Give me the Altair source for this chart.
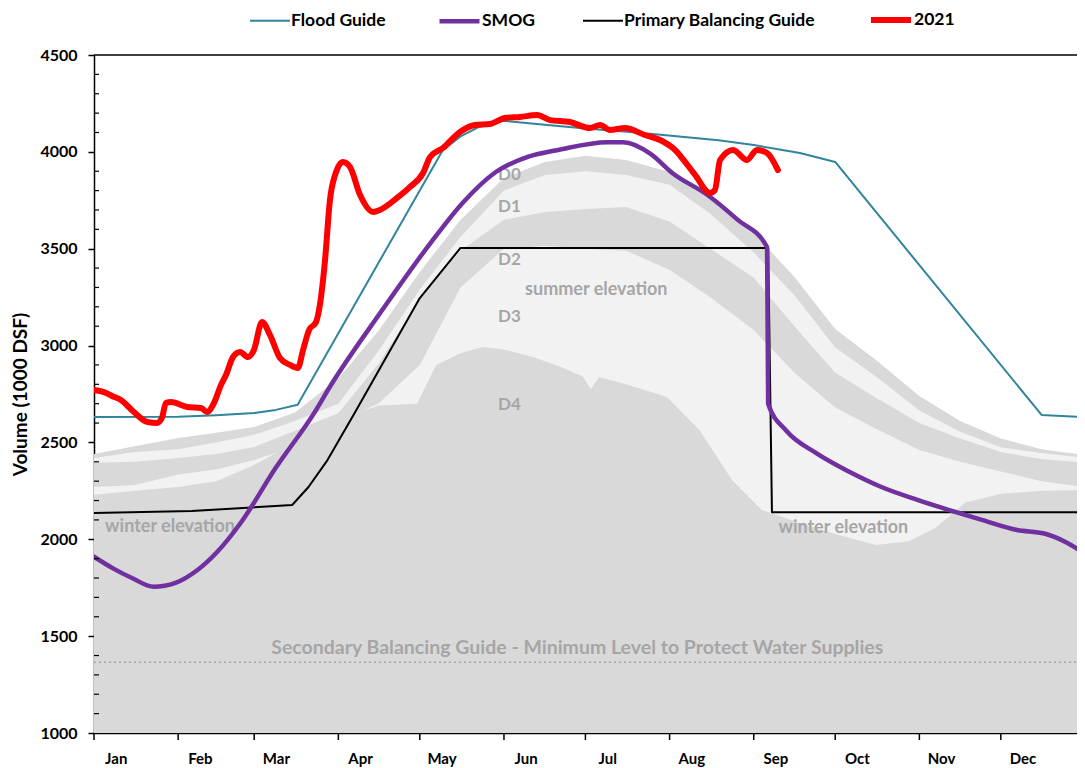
import altair as alt
import pandas as pd

# ---------------- data ----------------
months = ["Jan", "Feb", "Mar", "Apr", "May", "Jun", "Jul", "Aug", "Sep", "Oct", "Nov", "Dec"]
month_start = [0, 31, 59, 90, 120, 151, 181, 212, 243, 273, 304, 334]
month_label_day = [8, 39, 67, 98, 128, 159, 189, 220, 251, 281, 312, 342]

# drought band boundaries (day of year, volume)
band_days = [0, 15, 31, 45, 59, 74, 90, 105, 120, 135, 151, 166, 181, 196, 212, 227, 243, 258, 273, 288, 304, 319, 334, 349, 365]
d0_top = [2440, 2480, 2523, 2550, 2580, 2655, 2830, 3080, 3380, 3650, 3865, 3948, 3980, 3958, 3896, 3767, 3581, 3354, 3085, 2926, 2740, 2610, 2520, 2465, 2435]
d1_top = [2420, 2450, 2465, 2500, 2540, 2610, 2700, 2977, 3290, 3560, 3800, 3880, 3900, 3880, 3830, 3680, 3480, 3260, 2990, 2840, 2665, 2555, 2475, 2445, 2420]
d2_top = [2395, 2400, 2420, 2440, 2476, 2560, 2650, 2910, 3240, 3490, 3650, 3690, 3705, 3715, 3640, 3500, 3350, 3100, 2860, 2730, 2600, 2520, 2450, 2415, 2395]
d3_top = [2270, 2280, 2335, 2360, 2409, 2480, 2600, 2704, 2900, 3300, 3500, 3515, 3500, 3490, 3390, 3250, 3080, 2860, 2680, 2570, 2461, 2400, 2350, 2300, 2270]

d4_days = [0, 15, 31, 45, 59, 74, 90, 105, 119, 126, 135, 143, 151, 162, 172, 180, 183, 186, 196, 211, 223, 235, 246, 260, 275, 288, 300, 310, 321, 334, 349, 365]
d4_top = [2230, 2250, 2270, 2300, 2383, 2500, 2620, 2690, 2700, 2900, 2960, 2993, 2980, 2940, 2890, 2840, 2775, 2838, 2800, 2735, 2564, 2306, 2151, 2084, 2020, 1971, 1990, 2060, 2190, 2235, 2250, 2254]

flood_days = [0, 31, 45, 59, 67, 75, 128.5, 135, 142, 151, 166, 181, 200, 230, 243, 260, 273, 349, 365]
flood_vals = [2631, 2632, 2640, 2652, 2668, 2695, 4010, 4080, 4130, 4160, 4140, 4120, 4100, 4060, 4035, 3994, 3948, 2642, 2631]

smog_days = [0, 7, 14, 22, 30, 38, 45, 54, 67, 81, 87, 105, 124, 136, 148, 160, 171, 189, 195, 205, 213, 226, 237, 247.9, 248.3, 255, 266, 278, 290, 303, 315, 327, 340, 350, 358, 365]
smog_vals = [1910, 1850, 1800, 1755, 1775, 1840, 1929, 2084, 2370, 2650, 2790, 3160, 3530, 3740, 3896, 3975, 4010, 4050, 4050, 3990, 3891, 3777, 3650, 3509, 2700, 2560, 2445, 2350, 2270, 2205, 2151, 2100, 2048, 2030, 1985, 1925]

pbg_days = [0, 36, 73, 79, 86, 96, 120, 135, 248.3, 249.7, 365]
pbg_vals = [2136, 2146, 2177, 2270, 2409, 2652, 3245, 3504, 3504, 2140, 2140]

obs_days = [0, 3.7, 6.6, 9.9, 14.7, 19.5, 23.2, 25, 26.5, 28.4, 34.3, 39.4, 41.6, 44.2, 46.8, 48.6, 51.2, 53.8, 56.7, 58.9,
            61.9, 64.8, 68.5, 72.2, 75.1, 77, 79.2, 81.8, 83.2, 85.1, 86.9, 88.8, 91.7, 94.3, 98, 102.8, 105.3, 111.6, 116.4,
            121.2, 123.8, 128.5, 134.8, 140.3, 145.9, 151.4, 156.9, 163.2, 168, 175.3, 182.7, 186.4, 190, 195.6, 202.9, 208.5,
            214, 217.7, 221.4, 226.9, 228.7, 230.6, 235.4, 240.5, 244.2, 247.9, 251.9]
obs_vals = [2771, 2760, 2740, 2719, 2657, 2606, 2600, 2626, 2704, 2709, 2683, 2678, 2657, 2704, 2797, 2848, 2941, 2967, 2941, 2977,
            3122, 3055, 2936, 2900, 2884, 2977, 3080, 3122, 3210, 3442, 3751, 3881, 3948, 3922, 3777, 3690, 3700, 3762, 3819,
            3891, 3974, 4020, 4103, 4139, 4144, 4175, 4180, 4190, 4164, 4154, 4123, 4139, 4113, 4123, 4087, 4061,
            4010, 3948, 3881, 3788, 3803, 3958, 4010, 3958, 4010, 3994, 3906]

secondary_level = 1365

label_text = ["D0", "D1", "D2", "summer elevation", "D3", "D4", "winter elevation", "winter elevation",
              "Secondary Balancing Guide - Minimum Level to Protect Water Supplies"]
label_day = [153, 153, 153, 185, 153, 153, 28, 276, 178]
label_val = [3881, 3715, 3442, 3287, 3148, 2693, 2064, 2058, 1439]
label_size = [17, 17, 17, 18, 17, 17, 18, 18, 19.5]

series_names = ["Flood Guide", "SMOG", "Primary Balancing Guide", "2021"]
series_colors = ["#31849B", "#7030A0", "#000000", "#FF0000"]
series_widths = [2, 4.5, 2, 6]

# ---------------- frames ----------------
bands = pd.DataFrame({"day": band_days, "l0": d0_top, "l1": d1_top, "l2": d2_top, "l3": d3_top})
bands["base"] = 1000
d4 = pd.DataFrame({"day": d4_days, "l4": d4_top})
d4["base"] = 1000

def series_df(days, vals, name):
    return pd.DataFrame({"day": days, "val": vals, "series": name})

flood = series_df(flood_days, flood_vals, series_names[0])
smog = series_df(smog_days, smog_vals, series_names[1])
pbg = series_df(pbg_days, pbg_vals, series_names[2])
obs = series_df(obs_days, obs_vals, series_names[3])

labels = pd.DataFrame({"day": label_day, "val": label_val, "text": label_text, "fs": label_size})
sec = pd.DataFrame({"day": [0, 365], "val": [secondary_level, secondary_level]})
minor = pd.DataFrame({"val": [v for v in range(1100, 4500, 100) if v % 500 != 0]})
mticks = pd.DataFrame({"day": month_start})
top_line = pd.DataFrame({"val": [4500]})

FONT = "Lato"
DARK = "#D9D9D9"
LIGHT = "#F2F2F2"
GREYTXT = "#A6A6A6"

month_arr = "[" + ",".join("'%s'" % m for m in months) + "]"
label_arr = "[" + ",".join(str(d) for d in month_label_day) + "]"

PLOT_W = 991
PLOT_H = 678
xs = alt.Scale(domain=[0, 365], nice=False, zero=False)
ys = alt.Scale(domain=[1000, 4500], nice=False, zero=False)

X = alt.X("day:Q", scale=xs, axis=alt.Axis(values=month_label_day,
                                          labelExpr=month_arr + "[indexof(" + label_arr + ", datum.value)]",
                                          ticks=False, title=None, grid=False, domainColor="#000", domainWidth=1.5,
                                          labelFont=FONT, labelFontSize=15, labelFontWeight="bold", labelColor="#000",
                                          labelPadding=18))
Y_axis = alt.Axis(values=[1000, 1500, 2000, 2500, 3000, 3500, 4000, 4500], format="d", title="Volume (1000 DSF)",
                  grid=False, domainColor="#000", domainWidth=1.5, tickColor="#000", tickWidth=1.5, tickSize=6,
                  labelFont=FONT, labelFontSize=16, labelFontWeight="bold", labelColor="#000", labelPadding=11,
                  titleFont=FONT, titleFontSize=19, titleFontWeight="bold", titleColor="#000", titlePadding=9)

def area(df, top, color):
    return alt.Chart(df).mark_area(color=color, opacity=1, clip=True).encode(
        x=X, y=alt.Y(top + ":Q", scale=ys, axis=Y_axis), y2="base:Q")

a0 = area(bands, "l0", DARK)
a1 = area(bands, "l1", LIGHT)
a2 = area(bands, "l2", DARK)
a3 = area(bands, "l3", LIGHT)
a4 = area(d4, "l4", DARK)

secline = alt.Chart(sec).mark_line(color="#A6A6A6", strokeDash=[2, 3], strokeWidth=1.5, clip=True).encode(
    x=X, y=alt.Y("val:Q", scale=ys))

texts = alt.Chart(labels).mark_text(font=FONT, fontWeight="bold", color=GREYTXT, align="center", baseline="middle").encode(
    x=X, y=alt.Y("val:Q", scale=ys), text="text:N", size=alt.Size("fs:Q", scale=None, legend=None))

color_scale = alt.Scale(domain=series_names, range=series_colors)
width_scale = alt.Scale(type="ordinal", domain=series_names, range=series_widths)

def line(df, interp):
    return alt.Chart(df).mark_line(interpolate=interp, strokeCap="round", strokeJoin="round", clip=True).encode(
        x=X, y=alt.Y("val:Q", scale=ys),
        color=alt.Color("series:N", scale=color_scale, title=None),
        strokeWidth=alt.StrokeWidth("series:N", scale=width_scale, title=None))

l_flood = line(flood, "linear")
l_pbg = line(pbg, "linear")
l_smog = line(smog, "monotone")
l_obs = line(obs, "monotone")

minor_rules = alt.Chart(minor).mark_rule(color="#000", strokeWidth=1.2).encode(
    y=alt.Y("val:Q", scale=ys), x=alt.value(0), x2=alt.value(5))
x_ticks = alt.Chart(mticks).mark_rule(color="#000", strokeWidth=1.5).encode(
    x=X, y=alt.value(PLOT_H), y2=alt.value(PLOT_H + 7))
top_rule = alt.Chart(top_line).mark_rule(color="#000", strokeWidth=1.5).encode(y=alt.Y("val:Q", scale=ys))

chart = alt.layer(a0, a1, a2, a3, a4, secline, texts, l_flood, l_pbg, l_smog, l_obs,
                  minor_rules, x_ticks, top_rule).properties(
    width=PLOT_W, height=PLOT_H,
    autosize=alt.AutoSizeParams(type="none"),
    padding={"left": 86, "top": 47, "right": -8, "bottom": 35},
).configure_view(stroke=None).configure_legend(
    orient="none", legendX=155, legendY=-58, direction="horizontal", symbolType="stroke", symbolSize=1600,
    labelFont=FONT, labelFontSize=17.5, labelFontWeight="bold", labelColor="#000", columnPadding=44, labelOffset=0,
    labelLimit=0, title=None
)

chart.save("out.html", embed_options={"renderer": "svg", "actions": False})
